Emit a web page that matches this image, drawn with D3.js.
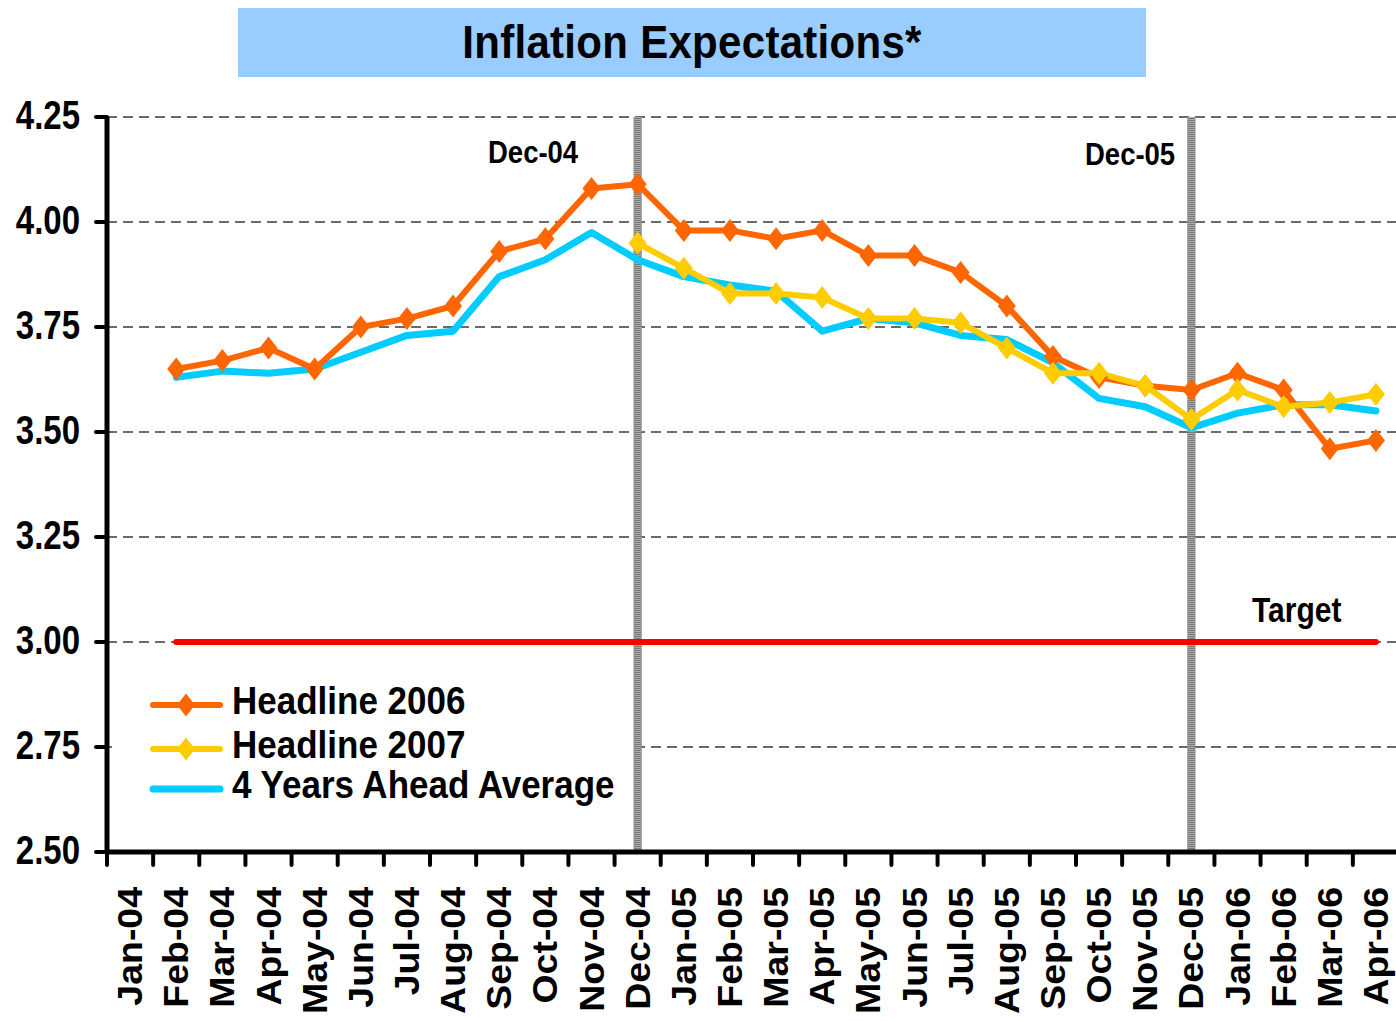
<!DOCTYPE html>
<html>
<head>
<meta charset="utf-8">
<script src="https://cdn.jsdelivr.net/npm/d3@7"></script>
<style>
  html, body { margin: 0; padding: 0; background: #fff; }
  svg { display: block; font-family: "Liberation Sans", Arial, sans-serif; font-weight: bold; }
</style>
</head>
<body>
<div id="chart"></div>
<script>
// categories on the x axis
const months = ["Jan-04", "Feb-04", "Mar-04", "Apr-04", "May-04", "Jun-04", "Jul-04", "Aug-04",
    "Sep-04", "Oct-04", "Nov-04", "Dec-04", "Jan-05", "Feb-05", "Mar-05", "Apr-05", "May-05",
    "Jun-05", "Jul-05", "Aug-05", "Sep-05", "Oct-05", "Nov-05", "Dec-05", "Jan-06", "Feb-06",
    "Mar-06", "Apr-06"];

// series values (null = no survey)
const headline2006 = [null, 3.65, 3.67, 3.70, 3.65, 3.75, 3.77, 3.80, 3.93, 3.96, 4.08, 4.09,
    3.98, 3.98, 3.96, 3.98, 3.92, 3.92, 3.88, 3.80, 3.68, 3.63, 3.61, 3.60, 3.64, 3.60, 3.46, 3.48];
const headline2007 = [null, null, null, null, null, null, null, null, null, null, null, 3.95,
    3.89, 3.83, 3.83, 3.82, 3.77, 3.77, 3.76, 3.70, 3.64, 3.64, 3.61, 3.53, 3.60, 3.56, 3.57, 3.59];
const fourYearsAhead = [null, 3.63, 3.645, 3.64, 3.65, 3.69, 3.73, 3.74, 3.87, 3.91, 3.975, 3.91,
    3.87, 3.85, 3.835, 3.74, 3.77, 3.76, 3.73, 3.72, 3.665, 3.58, 3.56, 3.51, 3.545, 3.565, 3.565, 3.55];

const yTicks = [2.50, 2.75, 3.00, 3.25, 3.50, 3.75, 4.00, 4.25];
const targetValue = 3.00;
const markerMonths = ["Dec-04", "Dec-05"];

const seriesList = [
    { name: "4 Years Ahead Average", values: fourYearsAhead, color: "#00CCFF", width: 7, marker: false },
    { name: "Headline 2006", values: headline2006, color: "#FF6600", width: 6, marker: true },
    { name: "Headline 2007", values: headline2007, color: "#FFCC00", width: 6, marker: true }
];
const legendOrder = ["Headline 2006", "Headline 2007", "4 Years Ahead Average"];

const width = 1396, height = 1021;
const plot = { left: 107, right: 1399, top: 117, bottom: 852 };

const svg = d3.select("#chart").append("svg")
    .attr("width", width)
    .attr("height", height);

const x = d3.scaleBand().domain(months).range([plot.left, plot.right]);
const cx = m => x(m) + x.bandwidth() / 2;
const y = d3.scaleLinear().domain([2.5, 4.25]).range([plot.bottom, plot.top]);

// text helper: the source has slightly tall glyphs, so stretch vertically
function label(g, str, px, py, size, sy, anchor) {
    return g.append("text")
        .attr("transform", `translate(${px},${py}) scale(1,${sy})`)
        .attr("font-size", size)
        .attr("text-anchor", anchor || "start")
        .attr("fill", "#000")
        .text(str);
}

// title box
svg.append("rect")
    .attr("x", 238).attr("y", 8)
    .attr("width", 908).attr("height", 69)
    .attr("fill", "#99CCFF");
label(svg, "Inflation Expectations*", 692, 58, 42, 1.08, "middle")
    .attr("letter-spacing", 0.3);

// horizontal dashed gridlines
svg.append("g")
    .selectAll("line")
    .data(yTicks.filter(d => d > 2.5))
    .join("line")
    .attr("x1", plot.left).attr("x2", width)
    .attr("y1", d => y(d)).attr("y2", d => y(d))
    .attr("stroke", "#3a3a3a")
    .attr("stroke-width", 1.4)
    .attr("stroke-dasharray", "10,6");

// legend background hides the gridline behind it
const legend = svg.append("g");
legend.append("rect")
    .attr("x", 112).attr("y", 660)
    .attr("width", 520).attr("height", 165)
    .attr("fill", "#fff");

// gray striped vertical markers
const stripes = svg.append("g");
markerMonths.forEach(m => {
    stripes.append("line")
        .attr("x1", cx(m)).attr("x2", cx(m))
        .attr("y1", plot.top).attr("y2", plot.bottom)
        .attr("stroke", "#7a7a7a").attr("stroke-width", 8);
    stripes.append("line")
        .attr("x1", cx(m)).attr("x2", cx(m))
        .attr("y1", plot.top).attr("y2", plot.bottom)
        .attr("stroke", "#a9a9a9").attr("stroke-width", 8)
        .attr("stroke-dasharray", "1,1");
});

// target line
svg.append("line")
    .attr("x1", cx(months[1])).attr("x2", cx(months[months.length - 1]))
    .attr("y1", y(targetValue)).attr("y2", y(targetValue))
    .attr("stroke", "#FF0000").attr("stroke-width", 6)
    .attr("stroke-linecap", "round");
label(svg, "Target", 1252, 622, 30, 1.14);

// annotations for the vertical markers
label(svg, "Dec-04", 488, 163, 27.5, 1.17);
label(svg, "Dec-05", 1085, 165, 27.5, 1.17);

// series lines
const line = d3.line()
    .defined(d => d.v != null)
    .x(d => cx(d.m))
    .y(d => y(d.v));

const diamond = (w, h) => `M0,${-h}L${w},0L0,${h}L${-w},0Z`;

seriesList.forEach(s => {
    const pts = months.map((m, i) => ({ m, v: s.values[i] }));
    svg.append("path")
        .datum(pts)
        .attr("fill", "none")
        .attr("stroke", s.color)
        .attr("stroke-width", s.width)
        .attr("stroke-linejoin", "round")
        .attr("stroke-linecap", "round")
        .attr("d", line);
});

seriesList.filter(s => s.marker).forEach(s => {
    const pts = months.map((m, i) => ({ m, v: s.values[i] })).filter(d => d.v != null);
    svg.append("g")
        .selectAll("path")
        .data(pts)
        .join("path")
        .attr("transform", d => `translate(${cx(d.m)},${y(d.v)})`)
        .attr("d", diamond(9, 11.5))
        .attr("fill", s.color);
});

// axes
const yAxis = svg.append("g");
yAxis.append("line")
    .attr("x1", plot.left).attr("x2", plot.left)
    .attr("y1", plot.top).attr("y2", plot.bottom)
    .attr("stroke", "#000").attr("stroke-width", 5);
yAxis.selectAll("line.tick")
    .data(yTicks)
    .join("line")
    .attr("class", "tick")
    .attr("x1", 96).attr("x2", plot.left)
    .attr("y1", d => y(d)).attr("y2", d => y(d))
    .attr("stroke", "#000").attr("stroke-width", 4)
    .attr("stroke-linecap", "round");
yTicks.forEach(t => label(yAxis, t.toFixed(2), 80, y(t) + 12, 33, 1.22, "end"));

const xAxis = svg.append("g");
xAxis.append("line")
    .attr("x1", plot.left - 2).attr("x2", width)
    .attr("y1", plot.bottom).attr("y2", plot.bottom)
    .attr("stroke", "#000").attr("stroke-width", 5);
xAxis.selectAll("line.tick")
    .data(months.map(m => x(m)))
    .join("line")
    .attr("class", "tick")
    .attr("x1", d => d).attr("x2", d => d)
    .attr("y1", plot.bottom).attr("y2", plot.bottom + 13)
    .attr("stroke", "#000").attr("stroke-width", 4)
    .attr("stroke-linecap", "round");
xAxis.selectAll("text")
    .data(months)
    .join("text")
    .attr("transform", m => `translate(${Math.min(cx(m) + 12, 1392)},887) rotate(-90) scale(1.07,1)`)
    .attr("text-anchor", "end")
    .attr("font-size", 35)
    .attr("fill", "#000")
    .text(m => m);

// legend entries
legendOrder.forEach((name, i) => {
    const s = seriesList.find(d => d.name === name);
    const ly = [705, 749, 789][i];
    legend.append("line")
        .attr("x1", 153).attr("x2", 220)
        .attr("y1", ly).attr("y2", ly)
        .attr("stroke", s.color).attr("stroke-width", s.width)
        .attr("stroke-linecap", "round");
    if (s.marker) {
        legend.append("path")
            .attr("transform", `translate(186,${ly})`)
            .attr("d", diamond(9, 11.5))
            .attr("fill", s.color);
    }
    label(legend, name, 232, ly + 9, 35, 1.1);
});
</script>
</body>
</html>
